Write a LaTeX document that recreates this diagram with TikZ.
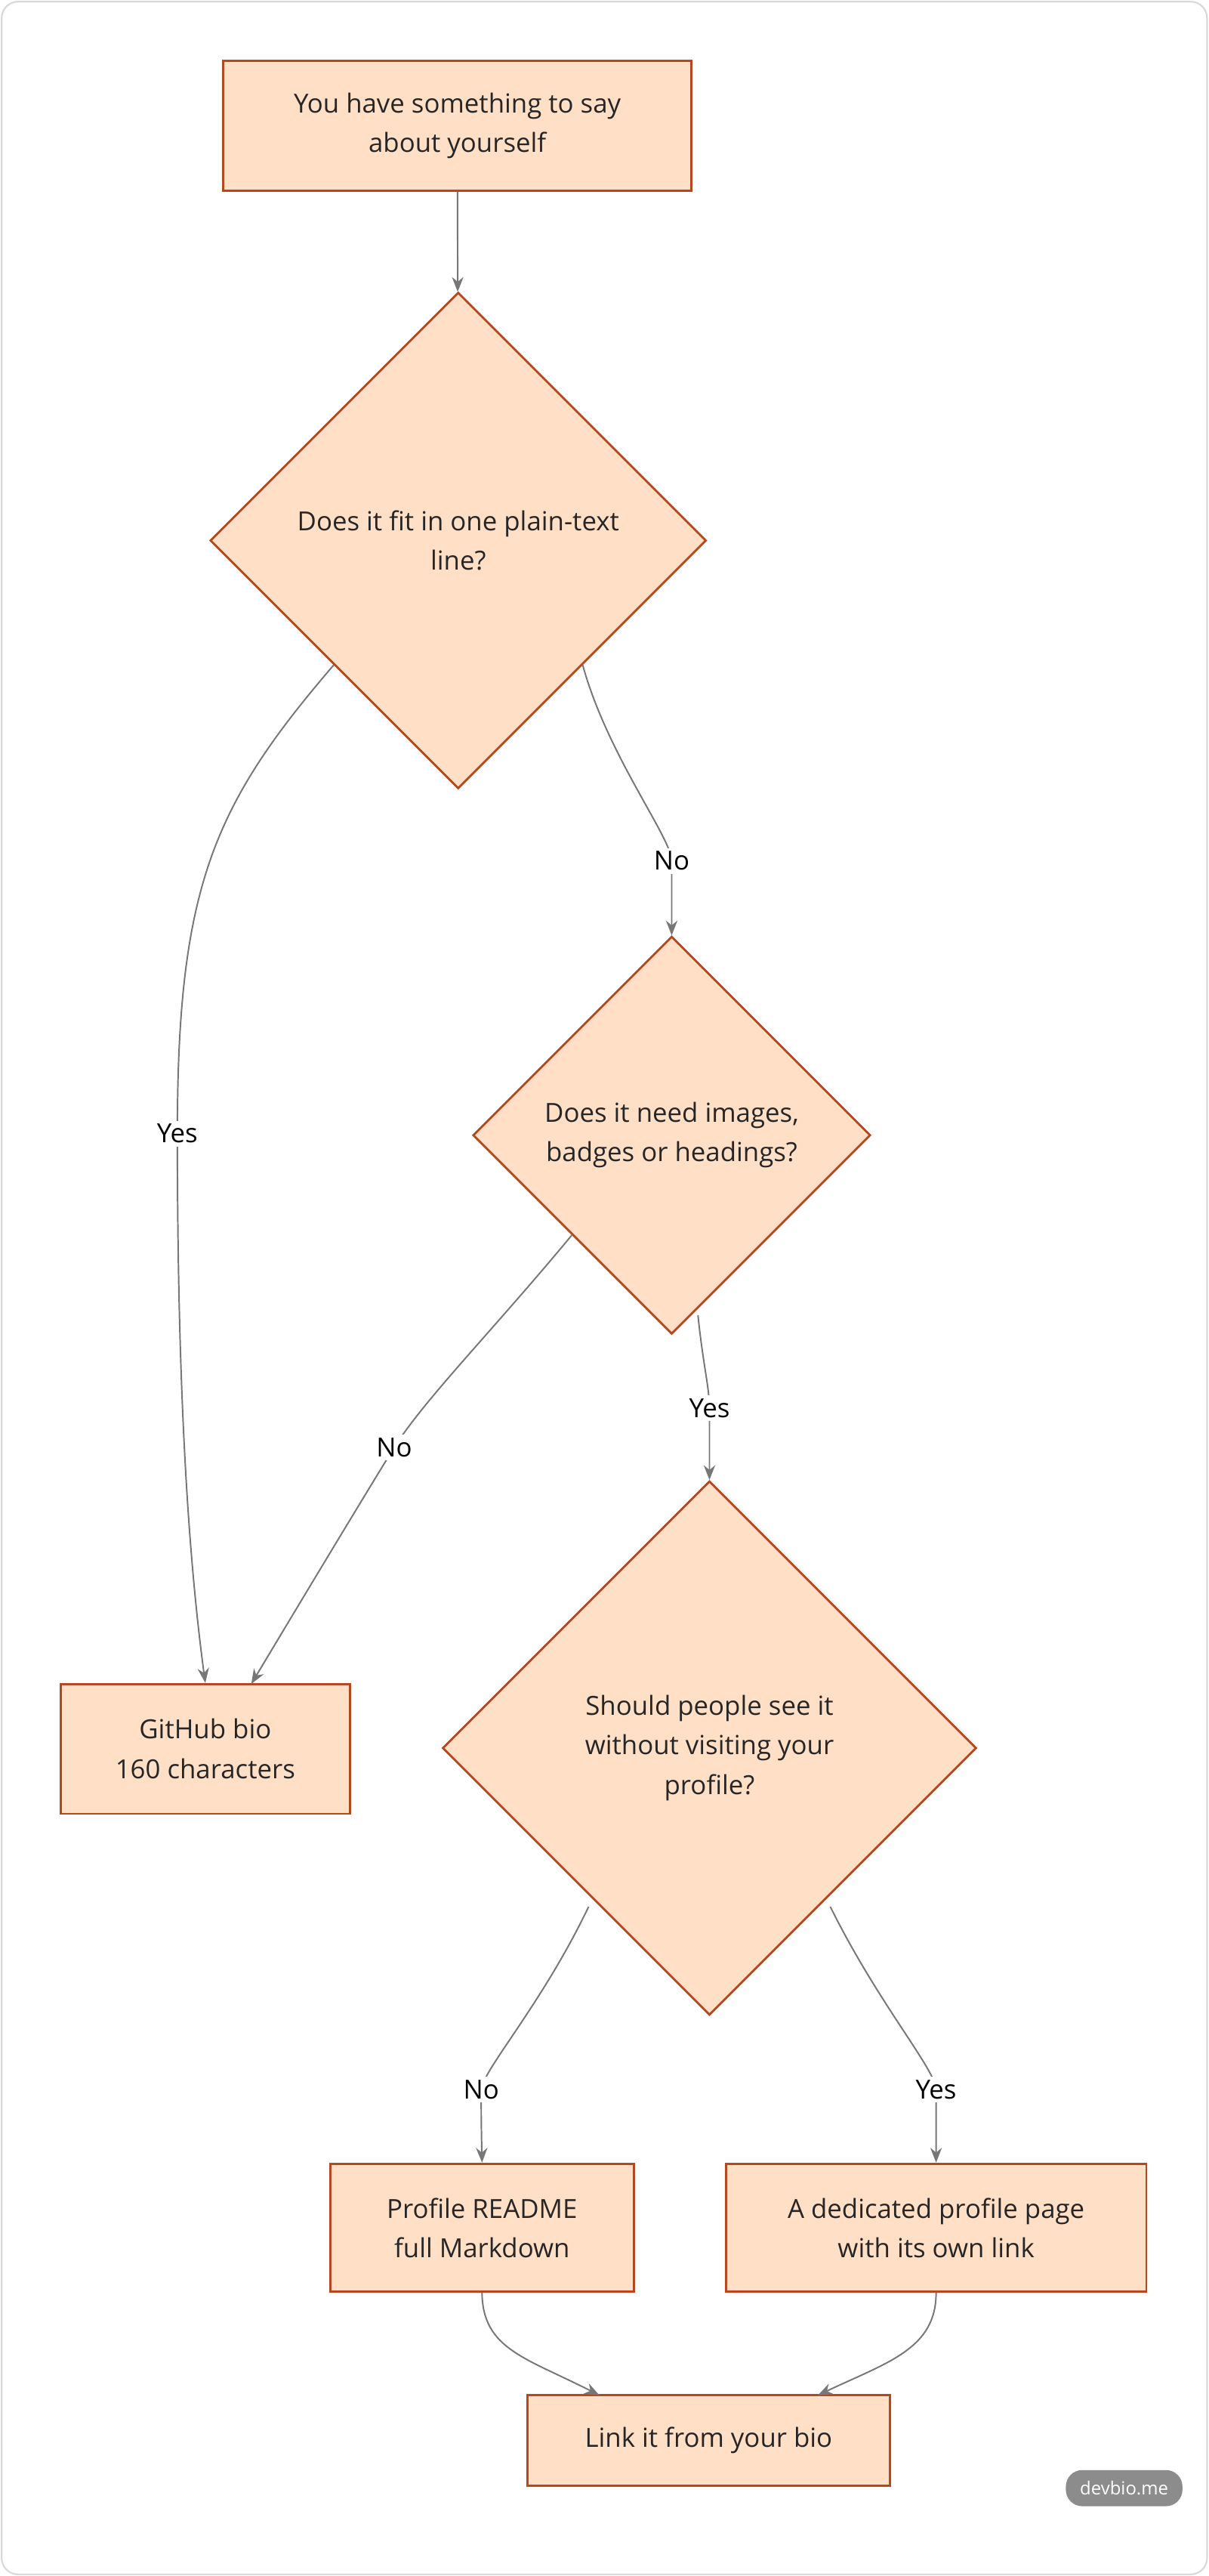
\documentclass[tikz,border=0pt]{standalone}
\usepackage{fontspec}
\setmainfont{Open Sans}
\usetikzlibrary{shapes.geometric,arrows.meta}
\definecolor{nfill}{HTML}{FFDFC6}
\definecolor{nline}{HTML}{B5481F}
\definecolor{eline}{HTML}{777777}
\begin{document}
\begin{tikzpicture}[x=1pt,y=-1pt,
  box/.style={draw=nline,fill=nfill,line width=1.3pt,inner sep=0,align=center,font=\fontsize{16}{24}\selectfont,text=black!85},
  dia/.style={box,shape=diamond,aspect=1},
  edge/.style={draw=eline,line width=0.9pt,-{Stealth[length=9pt,width=7pt]}},
  lbl/.style={fill=white,inner sep=2pt,font=\fontsize{16}{20}\selectfont,text=black}]
\useasboundingbox (0,0) rectangle (736,1568);
\draw[black!15,line width=1pt,rounded corners=10pt] (1,1) rectangle (735,1567);
\node[box,minimum width=285,minimum height=79] (a) at (278.5,76.5) {You have something to say\\about yourself};
\node[dia,minimum size=302] (d1) at (279,329) {Does it fit in one plain-text\\line?};
\node[dia,minimum size=242] (d2) at (409,691) {Does it need images,\\badges or headings?};
\node[dia,minimum size=325] (d3) at (432,1064) {Should people see it\\without visiting your\\profile?};
\node[box,minimum width=176,minimum height=79] (gh) at (125,1064.5) {GitHub bio\\160 characters};
\node[box,minimum width=185,minimum height=78] (rm) at (293.5,1356) {Profile README\\full Markdown};
\node[box,minimum width=256,minimum height=78] (pp) at (570,1356) {A dedicated profile page\\with its own link};
\node[box,minimum width=221,minimum height=55] (lk) at (431.5,1485.5) {Link it from your bio};
\node[fill=black!45,text=white,rounded corners=10pt,minimum width=71,minimum height=22,inner sep=0,font=\fontsize{11}{13}\selectfont] (badge) at (684.5,1514.5) {devbio.me};
\draw[edge] (a) -- (d1);
\draw[edge] (d1.south east) .. controls (370,460) and (409,510) .. node[lbl,pos=1] {No} (409,524) .. controls (409,540) and (409,555) .. (d2.north);
\draw[edge] (d1.south west) .. controls (130,490) and (108,540) .. node[lbl,pos=1] {Yes} (108,690) .. controls (108,850) and (115,950) .. (gh.north);
\coordinate (ghn) at (153,1025);
\draw[edge] (d2.south west) .. controls (300,810) and (260,850) .. node[lbl,pos=1] {No} (240,881) .. controls (210,930) and (180,980) .. (ghn);
\draw[edge] (d2.south) ++(16,-12) coordinate (d2s) (d2s) .. controls (428,830) and (432,845) .. node[lbl,pos=1] {Yes} (432,857) .. controls (432,875) .. (d3.north);
\draw[edge] (d3.south west) ++(8,15) coordinate (d3w) (d3w) .. controls (330,1220) and (294,1260) .. node[lbl,pos=1] {No} (293,1272) .. controls (293,1290) .. (rm.north);
\draw[edge] (d3.south east) ++(-8,15) coordinate (d3e) (d3e) .. controls (535,1220) and (570,1260) .. node[lbl,pos=1] {Yes} (570,1272) .. controls (570,1290) .. (pp.north);
\coordinate (lkl) at (365,1458);
\coordinate (lkr) at (498,1458);
\draw[edge] (rm.south) .. controls (294,1430) and (320,1435) .. (lkl);
\draw[edge] (pp.south) .. controls (570,1430) and (540,1438) .. (lkr);
\end{tikzpicture}
\end{document}
